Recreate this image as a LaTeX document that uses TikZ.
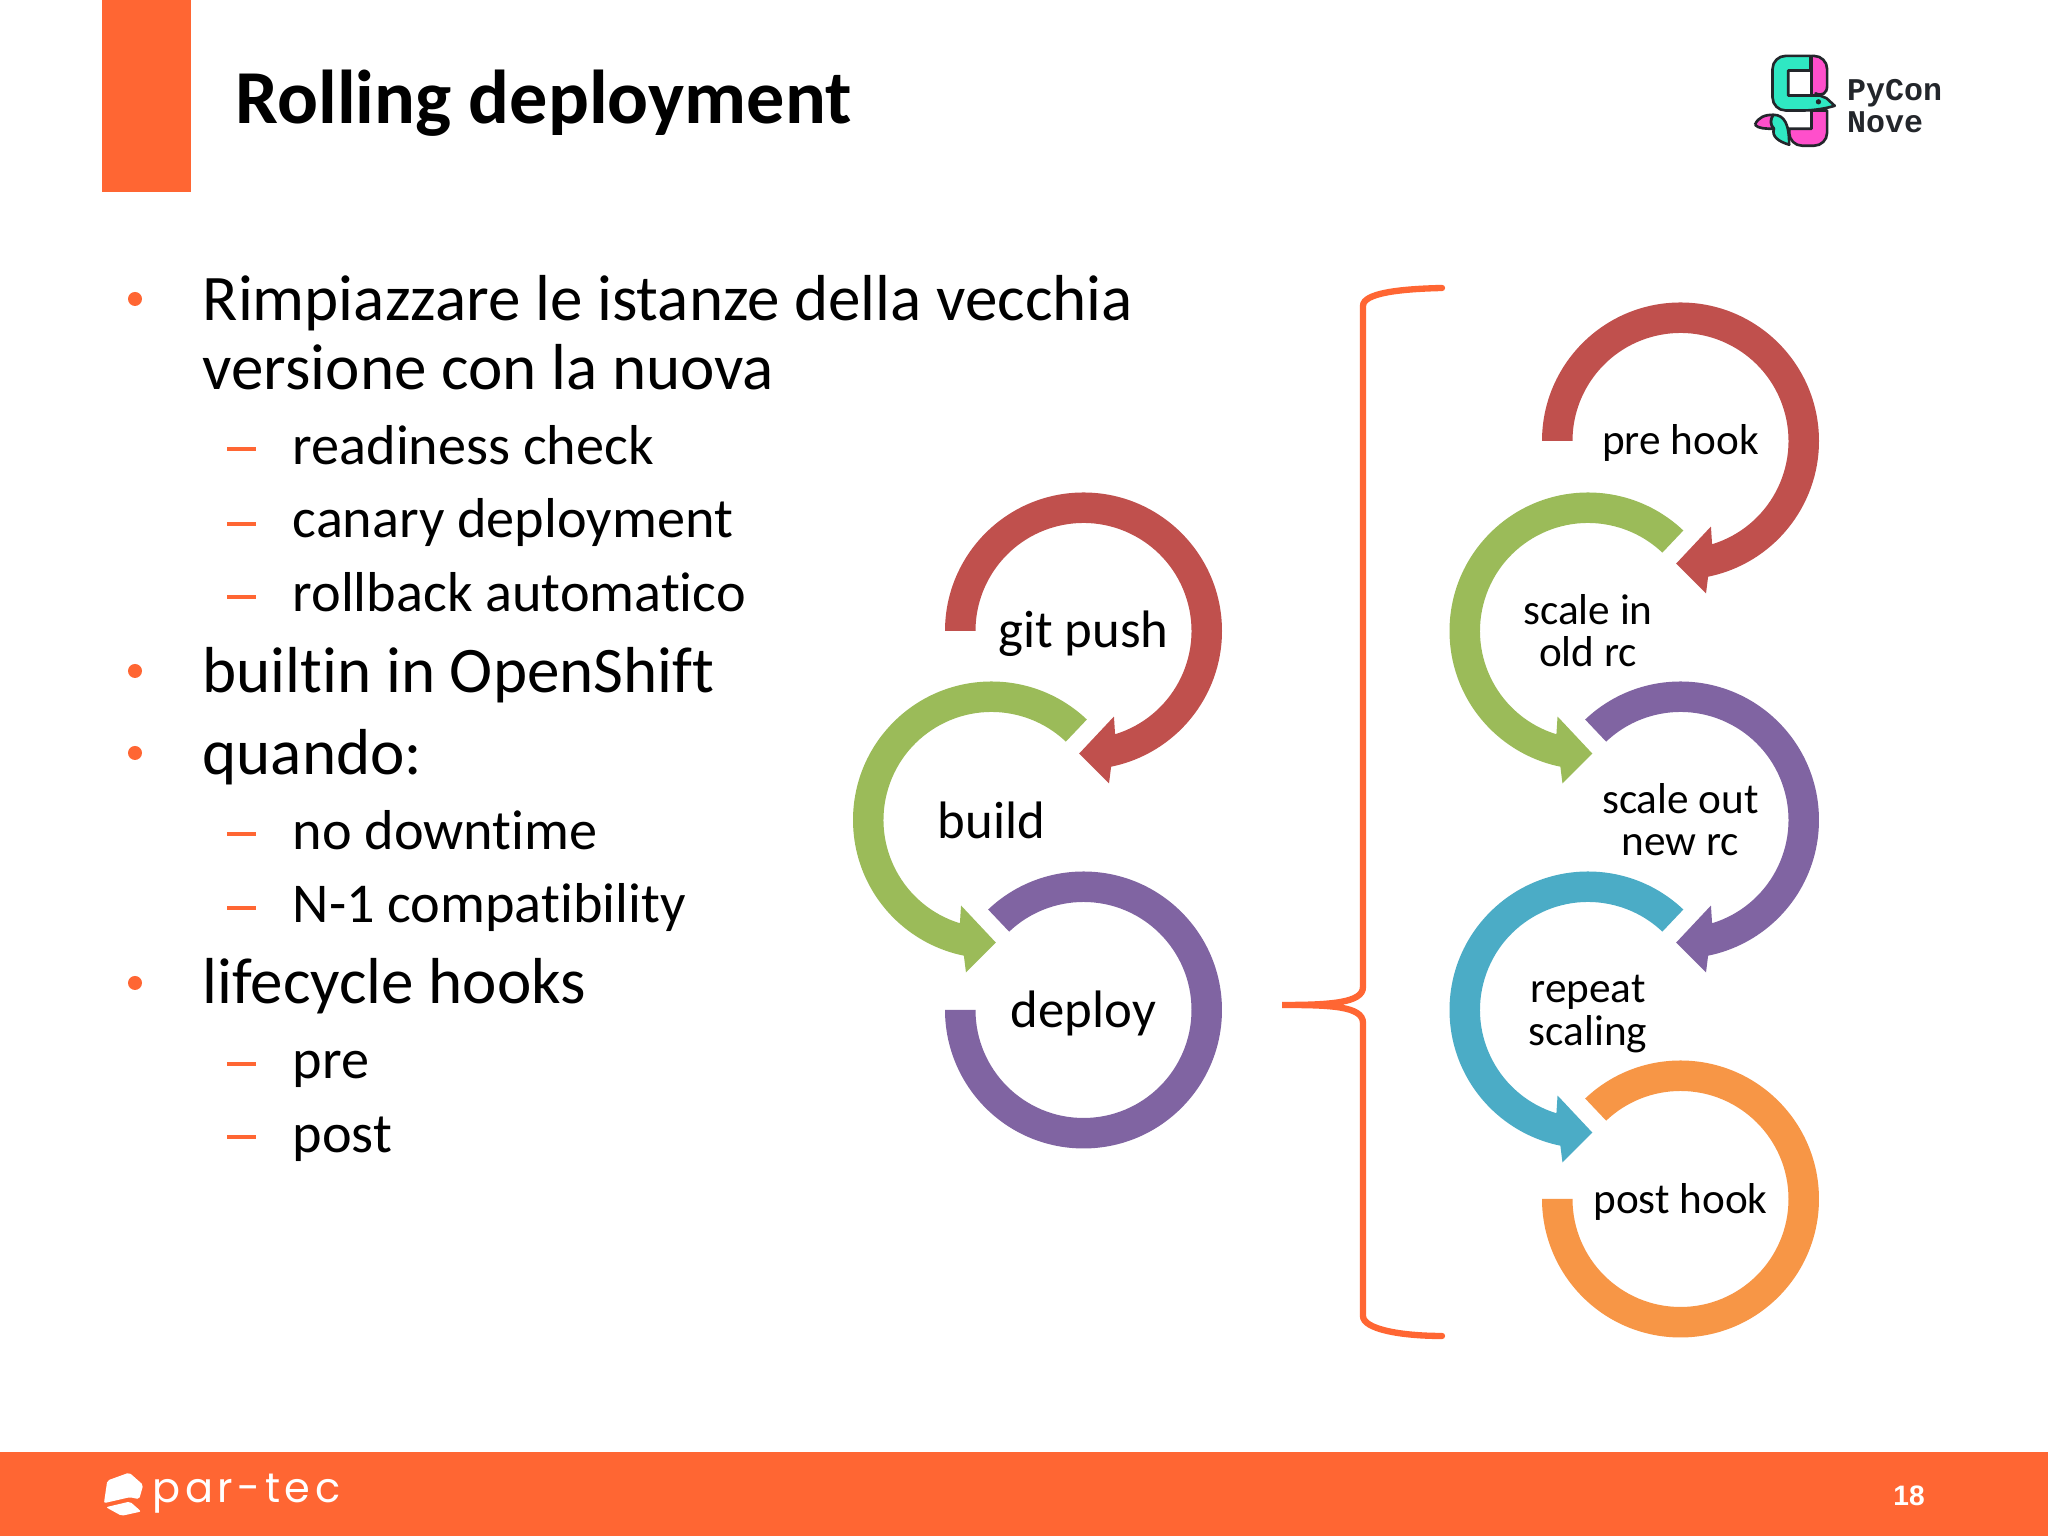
\documentclass[tikz,border=0pt]{standalone}
\usepackage{fontspec}
\setmainfont[Ligatures=NoCommon]{Carlito}
\newfontfamily\logofont{Liberation Mono}
\newfontfamily\parfont[LetterSpace=11]{Poppins}
\newfontfamily\numfont{Liberation Sans}
\definecolor{parorange}{HTML}{FF6633}
\definecolor{ringred}{HTML}{C0504D}
\definecolor{ringgreen}{HTML}{9BBB59}
\definecolor{ringpurple}{HTML}{8064A2}
\definecolor{ringblue}{HTML}{4BACC6}
\definecolor{ringorange}{HTML}{F79646}
\definecolor{snaketeal}{HTML}{2FE8C3}
\definecolor{snakepink}{HTML}{FF4FCB}
\definecolor{snakeink}{HTML}{23262B}
\tikzset{
  titletext/.style={anchor=base west,inner sep=0pt,font=\fontsize{21.7}{25}\selectfont\bfseries},
  bigtext/.style={anchor=base west,inner sep=0pt,font=\fontsize{18.5}{21}\selectfont},
  subtext/.style={anchor=base west,inner sep=0pt,font=\fontsize{16}{18}\selectfont},
  ringtext/.style={align=center,font=\fontsize{15}{12}\selectfont},
  smallring/.style={align=center,font=\fontsize{12.3}{12}\selectfont},
  dashmark/.style={draw=parorange,line width=1pt},
  snakeline/.style={draw=snakeink,line width=.75pt,line join=round}
}
\newcommand{\ringhead}[4][]{%
  \fill[#3,shift={(#2)},#1] (#4:1.385) arc[start angle=#4,end angle=-78.5,radius=1.385]
  --(-80.5:1.546)--(-92:1.226)--(-70.4:.908)--(-73:1.08)
  arc[start angle=-73,end angle=#4,radius=1.08]--cycle;}
\newcommand{\ringplain}[2]{%
  \fill[#2,shift={(#1)}] (133.5:1.385) arc[start angle=133.5,end angle=-180,radius=1.385]
  --(-180:1.08) arc[start angle=-180,end angle=133.5,radius=1.08]--cycle;}
\begin{document}
\begin{tikzpicture}
\useasboundingbox (0,0) rectangle (20.48,15.36);
\fill[white] (0,0) rectangle (20.48,15.36);
\fill[parorange] (1.025,13.44) rectangle (1.91,15.36);
\fill[parorange] (0,0) rectangle (20.48,.84);
\node[titletext] (title) at (2.35,14.12) {Rolling deployment};
% left column
\node[bigtext] (rimpiazzare) at (2.02,12.15) {Rimpiazzare le istanze della vecchia};
\node[bigtext] (versione) at (2.02,11.46) {versione con la nuova};
\node[subtext] (readiness) at (2.92,10.71) {readiness check};
\node[subtext] (canary) at (2.92,9.98) {canary deployment};
\node[subtext] (rollback) at (2.92,9.24) {rollback automatico};
\node[bigtext] (builtin) at (2.02,8.43) {builtin in OpenShift};
\node[bigtext] (quando) at (2.02,7.61) {quando:};
\node[subtext] (downtime) at (2.92,6.86) {no downtime};
\node[subtext] (compat) at (2.92,6.13) {N-1 compatibility};
\node[bigtext] (lifecycle) at (2.02,5.32) {lifecycle hooks};
\node[subtext] (pre) at (2.92,4.57) {pre};
\node[subtext] (post) at (2.92,3.83) {post};
\fill[parorange] (1.35,12.37) circle[radius=.07];
\fill[parorange] (1.35,8.65) circle[radius=.07];
\fill[parorange] (1.35,7.83) circle[radius=.07];
\fill[parorange] (1.35,5.53) circle[radius=.07];
\draw[dashmark] (2.27,10.87)--(2.56,10.87);
\draw[dashmark] (2.27,10.12)--(2.56,10.12);
\draw[dashmark] (2.27,9.39)--(2.56,9.39);
\draw[dashmark] (2.27,7.02)--(2.56,7.02);
\draw[dashmark] (2.27,6.28)--(2.56,6.28);
\draw[dashmark] (2.27,4.72)--(2.56,4.72);
\draw[dashmark] (2.27,3.99)--(2.56,3.99);
% middle rings
\coordinate (gitring) at (10.835,9.05);
\coordinate (buildring) at (9.915,7.16);
\coordinate (deployring) at (10.835,5.26);
\node[ringtext,yshift=-.03cm] (gitpush) at (gitring) {git push};
\node[ringtext] (build) at (buildring) {build};
\node[ringtext,yshift=-.03cm] (deploy) at (deployring) {deploy};
\ringhead{gitring}{ringred}{180}
\ringhead[xscale=-1]{buildring}{ringgreen}{133.5}
\ringplain{deployring}{ringpurple}
% the brace
\draw[parorange,line width=1.8pt,line cap=round] (14.42,12.48) .. controls (14.0,12.47) and (13.63,12.43) .. (13.63,12.3)
--(13.63,5.49) .. controls (13.63,5.33) and (13.3,5.31) .. (12.82,5.31)
.. controls (13.3,5.31) and (13.63,5.3) .. (13.63,5.13)
--(13.63,2.2) .. controls (13.63,2.07) and (14.0,2.0) .. (14.42,2.0);
% right rings
\coordinate (prering) at (16.805,10.95);
\coordinate (inring) at (15.88,9.05);
\coordinate (outring) at (16.805,7.16);
\coordinate (repeatring) at (15.88,5.26);
\coordinate (postring) at (16.805,3.37);
\node[smallring,yshift=-.02cm] (prehook) at (prering) {pre hook};
\node[smallring] (scalein) at (inring) {scale in\\old rc};
\node[smallring] (scaleout) at (outring) {scale out\\new rc};
\node[smallring,yshift=-.04cm] (repeatscaling) at (repeatring) {repeat\\scaling};
\node[smallring,yshift=-.03cm] (posthook) at (postring) {post hook};
\ringhead{prering}{ringred}{180}
\ringhead[xscale=-1]{inring}{ringgreen}{133.5}
\ringhead{outring}{ringpurple}{133.5}
\ringhead[xscale=-1]{repeatring}{ringblue}{133.5}
\ringplain{postring}{ringorange}
% snake logo
\begin{scope}[shift={(17.2,15.06)},x=.00333cm,y=-.00333cm]
\filldraw[snakeline,fill=snaketeal,rounded corners=1.3mm] (272,78)--(158,78)--(158,242)--(292,242)[sharp corners]--(345,228)--(320,205)--(300,197)--(205,197)--(205,122)--(272,122)--cycle;
\filldraw[snakeline,fill=snakepink,rounded corners=1.3mm] (275,78)--(322,78)--(322,208)[sharp corners]--(300,197)--(275,197)--cycle;
\filldraw[snakeline,fill=snakepink] (275,242)--(322,242)[rounded corners=1.3mm]--(322,348)--(208,348)[sharp corners]--(208,297)--(275,297)--cycle;
\filldraw[snakeline,fill=snaketeal] (160,255) .. controls (195,255) and (208,285) .. (208,345) .. controls (175,335) and (155,320) .. (162,297) .. controls (150,285) and (150,270) .. (160,255);
\filldraw[snakeline,fill=snakepink] (105,285) .. controls (115,262) and (135,255) .. (160,255) .. controls (150,270) and (150,285) .. (162,297) .. controls (140,297) and (115,297) .. (105,285);
\fill[snakeink] (296,216) circle[radius=8];
\node[anchor=base west,text=snakeink,font=\logofont\bfseries\fontsize{9}{9}\selectfont,inner sep=0pt] (pycon) at (380,212) {PyCon};
\node[anchor=base west,text=snakeink,font=\logofont\bfseries\fontsize{9}{9}\selectfont,inner sep=0pt] (nove) at (380,307) {Nove};
\end{scope}
% footer logo
\begin{scope}[shift={(.8,.86)},x=.00333cm,y=-.00333cm]
\fill[white,rounded corners=.2mm] (82,92)--(148,68)--(190,105)--(178,148)--(150,142)--(72,160)--cycle;
\fill[white,rounded corners=.2mm] (78,172)--(150,155)--(184,185)--(125,198)--cycle;
\node[anchor=base west,text=white,font=\parfont\fontsize{11.8}{12}\selectfont,inner sep=0pt] (partec) at (216,158) {par-tec};
\end{scope}
\node[text=white,font=\numfont\bfseries\fontsize{8}{9}\selectfont] (pagenum) at (19.09,.40) {18};
\end{tikzpicture}
\end{document}
